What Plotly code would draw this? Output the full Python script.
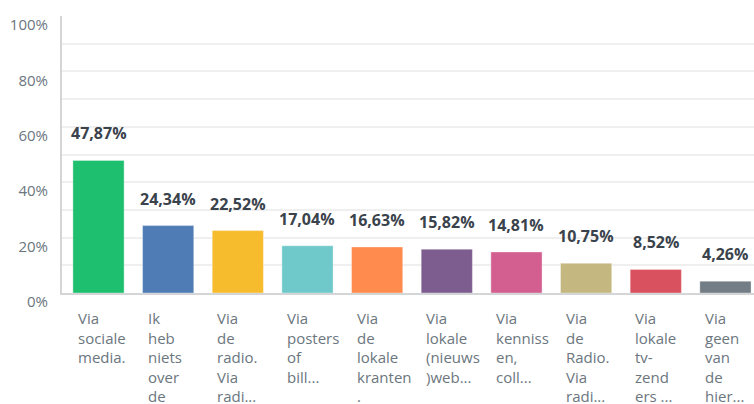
import plotly.graph_objects as go

categories = [
    "Via<br>sociale<br>media.",
    "Ik<br>heb<br>niets<br>over<br>de",
    "Via<br>de<br>radio.<br>Via<br>radi...",
    "Via<br>posters<br>of<br>bill...",
    "Via<br>de<br>lokale<br>kranten<br>.",
    "Via<br>lokale<br>(nieuws<br>)web...",
    "Via<br>kenniss<br>en,<br>coll...",
    "Via<br>de<br>Radio.<br>Via<br>radi...",
    "Via<br>lokale<br>tv-<br>zend<br>ers ...",
    "Via<br>geen<br>van<br>de<br>hier...",
]
values = [47.87, 24.34, 22.52, 17.04, 16.63, 15.82, 14.81, 10.75, 8.52, 4.26]
value_labels = ["47,87%", "24,34%", "22,52%", "17,04%", "16,63%", "15,82%", "14,81%", "10,75%", "8,52%", "4,26%"]
colors = ["#1fbf70", "#507cb6", "#f7bb2e", "#6fc8ca", "#ff8b4f", "#7d5d8f", "#d25f90", "#c4b77f", "#d9505e", "#737d85"]
ytick_vals = [0, 20, 40, 60, 80, 100]
ytick_text = ["0%", "20%", "40%", "60%", "80%", "100%"]

xs = list(range(len(values)))
bar_w = 0.735

fig = go.Figure()
fig.add_trace(go.Bar(
    x=xs, y=values, width=bar_w,
    marker=dict(color=colors, line=dict(color="rgba(255,255,255,0.35)", width=1)),
    hoverinfo="skip",
))

annotations = []
for i, (v, t) in enumerate(zip(values, value_labels)):
    annotations.append(dict(
        x=i, y=v, xref="x", yref="y", text=t, showarrow=False,
        yanchor="middle", yshift=27,
        font=dict(family="Open Sans", size=16, color="#3a434c", weight="bold"),
    ))
for i, c in enumerate(categories):
    annotations.append(dict(
        x=i - bar_w / 2, y=0, xref="x", yref="y", text=c, showarrow=False,
        xanchor="left", yanchor="top", align="left", xshift=3, yshift=-13,
        font=dict(family="Open Sans", size=15, color="#6b767e"),
    ))

fig.update_layout(
    width=754, height=404,
    margin=dict(l=62, r=0, t=16, b=111),
    paper_bgcolor="white", plot_bgcolor="white",
    showlegend=False,
    bargap=0.26,
    annotations=annotations,
    xaxis=dict(
        range=[-0.524, 9.41], showticklabels=False, showgrid=False, zeroline=False,
        showline=True, linecolor="#d3d5d6", linewidth=2, fixedrange=True,
    ),
    yaxis=dict(
        range=[0, 100], tickvals=ytick_vals, ticktext=ytick_text,
        showgrid=True, gridcolor="#efefef", gridwidth=1.5,
        minor=dict(dtick=10, showgrid=True, gridcolor="#efefef", gridwidth=1.5),
        zeroline=False, showline=True, linecolor="#d3d5d6", linewidth=2,
        ticklabelstandoff=9, ticklabelshift=9, fixedrange=True,
        tickfont=dict(family="Open Sans", size=15, color="#6b767e"),
    ),
)

fig.write_html(
    "out.html",
    config={"displayModeBar": False},
    post_script="document.body.style.margin='0';document.body.style.overflow='hidden';",
)
